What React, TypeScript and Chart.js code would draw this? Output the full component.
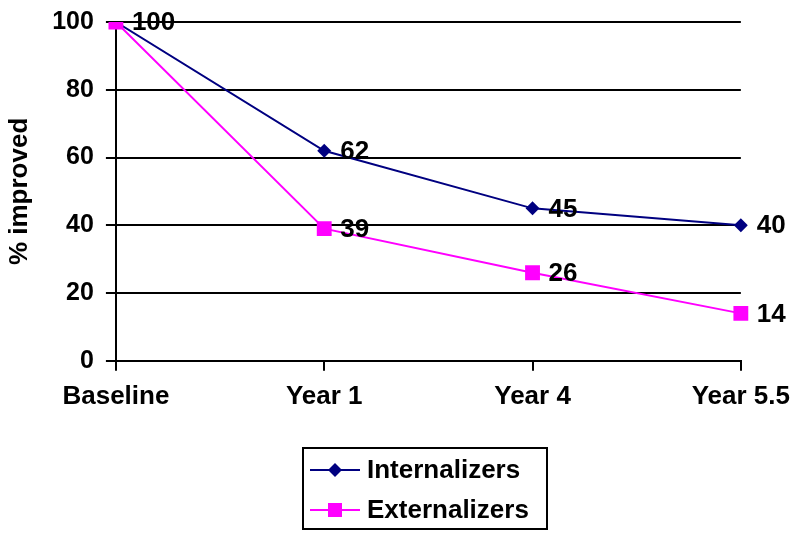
import React, { useEffect, useRef } from "react";
import { Chart, registerables } from "chart.js";

Chart.register(...registerables);

const categories = ["Baseline", "Year 1", "Year 4", "Year 5.5"];
const internalizers = [100, 62, 45, 40];
const externalizers = [100, 39, 26, 14];
const seriesNames = ["Internalizers", "Externalizers"];
const yTitle = "% improved";

const NAVY = "#000080";
const MAGENTA = "#FF00FF";
const FONT = "Arial, 'Liberation Sans', Helvetica, sans-serif";

const dataLabelPlugin = {
  id: "dataLabels",
  afterDatasetsDraw(chart: any) {
    const ctx = chart.ctx;
    ctx.save();
    ctx.font = `bold 26px ${FONT}`;
    ctx.fillStyle = "#000";
    ctx.textAlign = "left";
    ctx.textBaseline = "middle";
    const drawn: Record<string, boolean> = {};
    chart.data.datasets.forEach((ds: any, di: number) => {
      const meta = chart.getDatasetMeta(di);
      meta.data.forEach((pt: any, i: number) => {
        const key = `${i}-${ds.data[i]}`;
        if (drawn[key]) return;
        drawn[key] = true;
        ctx.fillText(String(ds.data[i]), pt.x + 16, pt.y + 1);
      });
    });
    ctx.restore();
  },
};

const boxLegendPlugin = {
  id: "boxLegend",
  afterDraw(chart: any) {
    const ctx = chart.ctx;
    const x0 = 303;
    const y0 = 448;
    const w = 244;
    const h = 81;
    ctx.save();
    ctx.lineWidth = 2;
    ctx.strokeStyle = "#000";
    ctx.strokeRect(x0, y0, w, h);
    ctx.font = `bold 26px ${FONT}`;
    ctx.textBaseline = "middle";
    ctx.textAlign = "left";
    chart.data.datasets.forEach((ds: any, i: number) => {
      const cy = y0 + 22 + i * 40;
      ctx.strokeStyle = ds.borderColor;
      ctx.lineWidth = 2;
      ctx.beginPath();
      ctx.moveTo(x0 + 7, cy);
      ctx.lineTo(x0 + 57, cy);
      ctx.stroke();
      ctx.fillStyle = ds.pointBackgroundColor;
      ctx.beginPath();
      const cx = x0 + 32;
      if (ds.pointStyle === "rectRot") {
        const r = 7;
        ctx.moveTo(cx - r, cy);
        ctx.lineTo(cx, cy - r);
        ctx.lineTo(cx + r, cy);
        ctx.lineTo(cx, cy + r);
        ctx.closePath();
      } else {
        ctx.rect(cx - 7, cy - 7, 14, 14);
      }
      ctx.fill();
      ctx.fillStyle = "#000";
      ctx.fillText(ds.label, x0 + 64, cy + 1);
    });
    ctx.restore();
  },
};

export default function App() {
  const canvasRef = useRef<HTMLCanvasElement>(null);

  useEffect(() => {
    if (!canvasRef.current) return;
    const chart = new Chart(canvasRef.current, {
      type: "line",
      data: {
        labels: categories,
        datasets: [
          {
            label: seriesNames[0],
            data: internalizers,
            order: 1,
            borderColor: NAVY,
            backgroundColor: NAVY,
            pointBackgroundColor: NAVY,
            pointBorderColor: NAVY,
            pointStyle: "rectRot",
            pointRadius: 7,
            pointBorderWidth: 0,
            borderWidth: 2,
            tension: 0,
          },
          {
            label: seriesNames[1],
            data: externalizers,
            order: 0,
            borderColor: MAGENTA,
            backgroundColor: MAGENTA,
            pointBackgroundColor: MAGENTA,
            pointBorderColor: MAGENTA,
            pointStyle: "rect",
            pointRadius: 10.5,
            pointBorderWidth: 0,
            borderWidth: 2,
            tension: 0,
          },
        ],
      },
      options: {
        responsive: false,
        animation: false,
        layout: { padding: { top: 1, right: 10, bottom: 118, left: 1 } },
        plugins: {
          legend: { display: false },
          tooltip: { enabled: false },
        },
        scales: {
          x: {
            type: "category",
            offset: false,
            grid: {
              display: true,
              drawOnChartArea: false,
              drawTicks: true,
              tickLength: 10,
              color: "#000",
              lineWidth: 2,
            },
            border: { display: true, color: "#000", width: 2 },
            ticks: {
              color: "#000",
              font: { family: FONT, size: 26, weight: "bold" },
              padding: 10,
              maxRotation: 0,
              autoSkip: false,
            },
          },
          y: {
            min: 0,
            max: 100,
            afterFit: (scale: any) => {
              scale.paddingTop = 22;
            },
            ticks: {
              stepSize: 20,
              color: "#000",
              font: { family: FONT, size: 25, weight: "bold" },
              padding: 12,
            },
            grid: {
              color: "#000",
              lineWidth: 2,
              drawTicks: true,
              tickLength: 10,
            },
            border: { display: true, color: "#000", width: 2 },
            title: {
              display: true,
              text: yTitle,
              color: "#000",
              font: { family: FONT, size: 26, weight: "bold" },
              padding: { top: 3, bottom: 5 },
            },
          },
        },
      },
      plugins: [dataLabelPlugin, boxLegendPlugin],
    });
    return () => chart.destroy();
  }, []);

  return (
    <div style={{ position: "fixed", left: 0, top: 0, width: 800, height: 540, background: "#fff" }}>
      <canvas ref={canvasRef} width={800} height={540} />
    </div>
  );
}
